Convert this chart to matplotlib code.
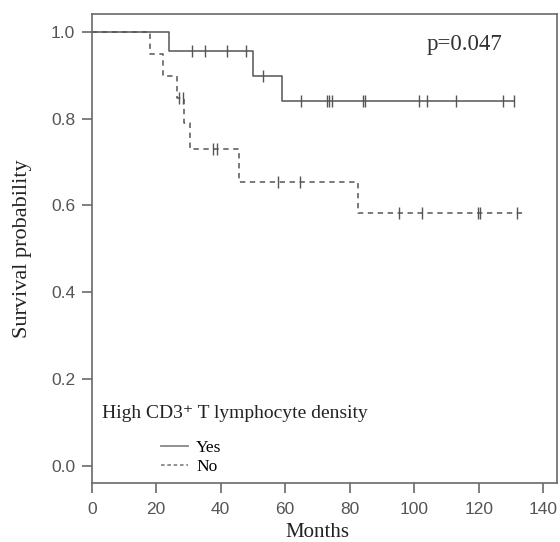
import numpy as np
import matplotlib
matplotlib.use("Agg")
import matplotlib.pyplot as plt
from matplotlib.lines import Line2D

# Kaplan-Meier curves (months, survival probability)
yes_times = [0, 24, 50, 59]
yes_surv = [1.0, 0.955, 0.899, 0.840]
yes_end = 131
yes_censor = [31, 35, 42, 48, 53, 65, 73, 73.7, 74.5, 84, 84.7,
              101.6, 104, 113, 127.6, 131]

no_times = [0, 18, 22, 26.5, 28.7, 30.5, 45.7, 82.7]
no_surv = [1.0, 0.949, 0.899, 0.847, 0.791, 0.729, 0.655, 0.583]
no_end = 134.4
no_censor = [27.2, 28.2, 37.7, 39.0, 57.7, 64.6, 95.4, 102.3,
             119.7, 120.3, 131.8]

x_ticks = [0, 20, 40, 60, 80, 100, 120, 140]
y_ticks = [0.0, 0.2, 0.4, 0.6, 0.8, 1.0]
p_text = "p=0.047"

line_col = "#555555"
axis_col = "#6a6a6a"
serif = ["Liberation Serif", "DejaVu Serif"]


def surv_at(times, surv, t):
    """step-function value at time t"""
    idx = np.searchsorted(times, t, side="right") - 1
    return np.array(surv)[idx]


fig = plt.figure(figsize=(5.6, 5.42), dpi=100)
ax = fig.add_axes([0.1638, 0.1089, 0.8308, 0.8653])

# curves
ax.step(yes_times + [yes_end], yes_surv + [yes_surv[-1]], where="post",
        color=line_col, lw=1.1)
ax.step(no_times + [no_end], no_surv + [no_surv[-1]], where="post",
        color=line_col, lw=1.1, linestyle=(0, (3.5, 3)))

# censor ticks
ax.plot(yes_censor, surv_at(yes_times, yes_surv, yes_censor), ls="none",
        marker="|", ms=8, mew=1.0, color=line_col)
ax.plot(no_censor, surv_at(no_times, no_surv, no_censor), ls="none",
        marker="|", ms=8, mew=1.0, color=line_col)

ax.set_xlim(0, 144.3)
ax.set_ylim(-0.039, 1.041)
ax.set_xticks(x_ticks)
ax.set_yticks(y_ticks)
ax.set_yticklabels([f"{v:.1f}" for v in y_ticks])

for s in ax.spines.values():
    s.set_color(axis_col)
    s.set_linewidth(1.2)
ax.tick_params(colors=axis_col, labelcolor="#555555", length=7, width=1.2,
               labelsize=12.5, pad=5)
ax.tick_params(axis="x", pad=7)
for lab in ax.get_xticklabels() + ax.get_yticklabels():
    lab.set_family(["Liberation Sans", "DejaVu Sans"])

ax.set_ylabel("Survival probability", family=serif, fontsize=16, color="#222222")
ax.yaxis.set_label_coords(-0.128, 0.5)
ax.set_xlabel("Months", family=serif, fontsize=15, color="#222222")
ax.xaxis.set_label_coords(0.485, -0.085)

ax.text(0.72, 0.935, p_text, transform=ax.transAxes, family=serif,
        fontsize=16.5, color="#333333", va="center", ha="left")

# legend
ax.text(0.0215, 0.149, "High CD3\u207a T lymphocyte density",
        transform=ax.transAxes, family=serif, fontsize=14,
        color="#222222", va="center", ha="left")
handles = [Line2D([], [], color="#888888", lw=1.3),
           Line2D([], [], color="#888888", lw=1.3, linestyle=(0, (2, 1.5)))]
ax.legend(handles, ["Yes", "No"], loc="upper left",
          bbox_to_anchor=(0.148, 0.092), frameon=False, borderpad=0,
          borderaxespad=0, handlelength=1.6, handletextpad=0.45,
          labelspacing=0.15, prop={"family": serif, "size": 12.5})

fig.savefig("out.png", dpi=100)
